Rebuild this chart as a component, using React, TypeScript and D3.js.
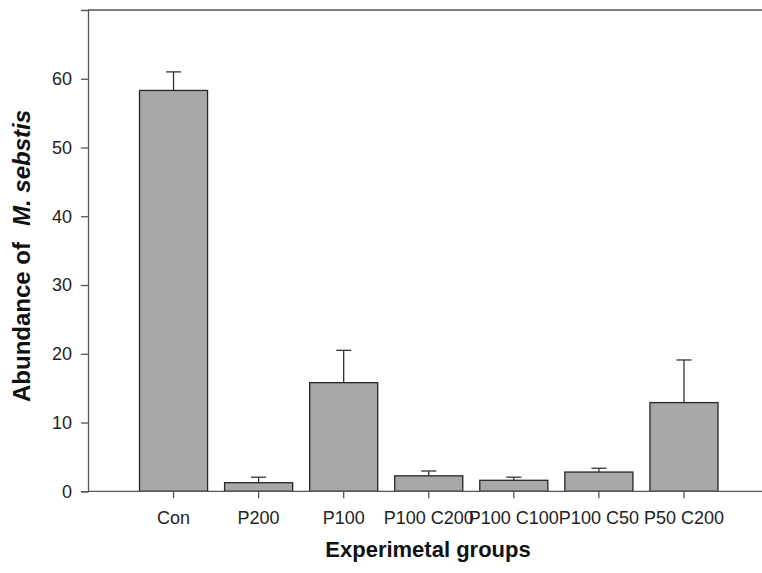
import React, { useEffect, useRef } from 'react';
import * as d3 from 'd3';

const groups = ['Con', 'P200', 'P100', 'P100 C200', 'P100 C100', 'P100 C50', 'P50 C200'];
const means = [58.3, 1.25, 15.8, 2.25, 1.6, 2.8, 12.9];
const errors = [2.7, 0.8, 4.7, 0.7, 0.45, 0.55, 6.2];
const yTicks = [0, 10, 20, 30, 40, 50, 60];

const W = 762;
const H = 573;

export default function App() {
  const ref = useRef<SVGSVGElement>(null);

  useEffect(() => {
    const svg = d3.select(ref.current);
    svg.selectAll('*').remove();

    const left = 88;
    const top = 10;
    const bottom = 491.3;
    const font = 'Liberation Sans, Arial, sans-serif';

    const x = d3.scaleBand<string>()
      .domain(groups)
      .range([131, 726.5])
      .paddingInner(0.2)
      .paddingOuter(0.1);
    const y = d3.scaleLinear().domain([0, 70]).range([bottom, top]);

    const data = groups.map((g, i) => ({ g, m: means[i], e: errors[i] }));

    // frame: top line, left axis, bottom axis
    svg.append('line')
      .attr('x1', left).attr('x2', W).attr('y1', top).attr('y2', top)
      .attr('stroke', '#555').attr('stroke-width', 1.3);

    // bars
    svg.selectAll('rect.bar')
      .data(data)
      .enter()
      .append('rect')
      .attr('class', 'bar')
      .attr('x', d => x(d.g)!)
      .attr('y', d => y(d.m))
      .attr('width', x.bandwidth())
      .attr('height', d => bottom - y(d.m))
      .attr('fill', '#a8a8a8')
      .attr('stroke', '#262626')
      .attr('stroke-width', 1.3);

    // error bars (upper only)
    const eb = svg.selectAll('g.err').data(data).enter().append('g').attr('class', 'err');
    eb.append('line')
      .attr('x1', d => x(d.g)! + x.bandwidth() / 2)
      .attr('x2', d => x(d.g)! + x.bandwidth() / 2)
      .attr('y1', d => y(d.m))
      .attr('y2', d => y(d.m + d.e))
      .attr('stroke', '#333').attr('stroke-width', 1.3);
    eb.append('line')
      .attr('x1', d => x(d.g)! + x.bandwidth() / 2 - 7.5)
      .attr('x2', d => x(d.g)! + x.bandwidth() / 2 + 7.5)
      .attr('y1', d => y(d.m + d.e))
      .attr('y2', d => y(d.m + d.e))
      .attr('stroke', '#333').attr('stroke-width', 1.3);

    // y axis
    const yAxis = d3.axisLeft(y).tickValues(yTicks).tickSize(7).tickPadding(9).tickFormat(d3.format('d'));
    const gy = svg.append('g').attr('transform', `translate(${left},0)`).call(yAxis);
    gy.select('.domain').attr('stroke', '#555').attr('stroke-width', 1.3);
    gy.selectAll('.tick line').attr('stroke', '#555').attr('stroke-width', 1.3);
    gy.selectAll('.tick text')
      .attr('fill', '#222')
      .style('font-family', font)
      .style('font-size', '18px');

    // x axis
    const xAxis = d3.axisBottom(x).tickSize(7).tickPadding(13);
    const gx = svg.append('g').attr('transform', `translate(0,${bottom})`).call(xAxis);
    gx.select('.domain').remove();
    gx.append('line')
      .attr('x1', left).attr('x2', W).attr('y1', 0).attr('y2', 0)
      .attr('stroke', '#555').attr('stroke-width', 1.3);
    gx.selectAll('.tick line').attr('stroke', '#555').attr('stroke-width', 1.3);
    gx.selectAll('.tick text')
      .attr('fill', '#222')
      .style('font-family', font)
      .style('font-size', '18px');

    // axis titles
    svg.append('text')
      .attr('x', 428)
      .attr('y', 557)
      .attr('text-anchor', 'middle')
      .style('font-family', font)
      .style('font-size', '22px')
      .style('font-weight', 'bold')
      .attr('fill', '#111')
      .text('Experimetal groups');

    const yt = svg.append('text')
      .attr('transform', 'translate(30,402) rotate(-90)')
      .attr('text-anchor', 'start')
      .style('font-family', font)
      .style('font-size', '24px')
      .style('font-weight', 'bold')
      .attr('fill', '#111');
    yt.append('tspan').text('Abundance of');
    yt.append('tspan').attr('dx', 16).style('font-style', 'italic').text('M. sebstis');
  }, []);

  return (
    <svg
      ref={ref}
      width={W}
      height={H}
      style={{ position: 'absolute', left: 0, top: 0, background: '#fff' }}
    />
  );
}
